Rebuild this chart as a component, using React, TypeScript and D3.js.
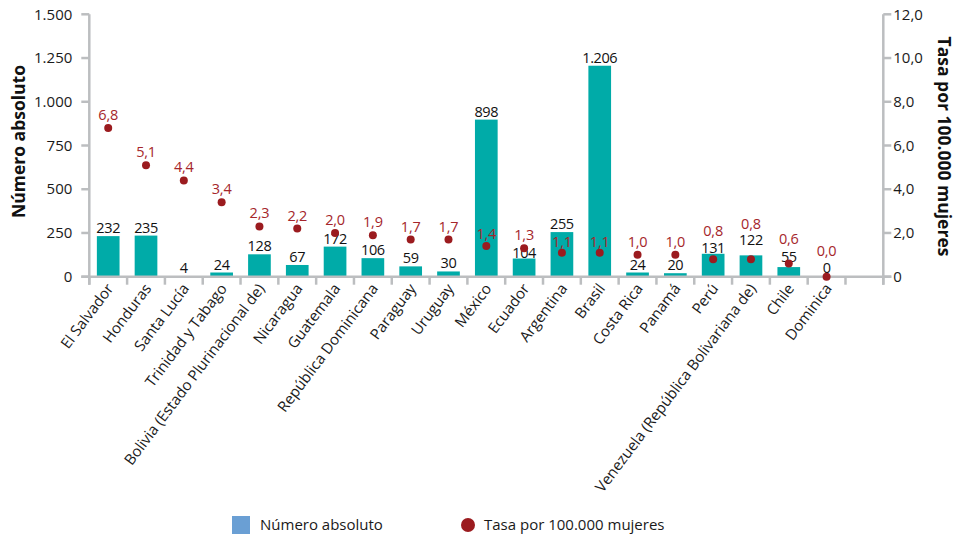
import React from 'react';
import * as d3 from 'd3';

// categorías (la última queda vacía, como en el original)
const paises = [
  'El Salvador', 'Honduras', 'Santa Lucía', 'Trinidad y Tabago',
  'Bolivia (Estado Plurinacional de)', 'Nicaragua', 'Guatemala',
  'República Dominicana', 'Paraguay', 'Uruguay', 'México', 'Ecuador',
  'Argentina', 'Brasil', 'Costa Rica', 'Panamá', 'Perú',
  'Venezuela (República Bolivariana de)', 'Chile', 'Dominica', '',
];
const numeroAbsoluto = [232, 235, 4, 24, 128, 67, 172, 106, 59, 30, 898, 104, 255, 1206, 24, 20, 131, 122, 55, 0];
const tasa = [6.8, 5.1, 4.4, 3.4, 2.3, 2.2, 2.0, 1.9, 1.7, 1.7, 1.4, 1.3, 1.1, 1.1, 1.0, 1.0, 0.8, 0.8, 0.6, 0.0];
const ticksIzq = [0, 250, 500, 750, 1000, 1250, 1500];
const ticksDer = [0, 2, 4, 6, 8, 10, 12];

const W = 957;
const H = 538;
const plot = { left: 89.3, right: 883.3, top: 14.3, bottom: 276.7 };

// separación (px) de las etiquetas que en el original se movieron a mano
const sepBarra: Record<string, number> = { 'Perú': 1, 'Venezuela (República Bolivariana de)': 10, 'Chile': 5, 'Ecuador': 1, 'Dominica': 4 };
const sepTasa: Record<string, number> = { 'Perú': 23, 'Venezuela (República Bolivariana de)': 30, 'Chile': 20, 'Dominica': 21, 'Argentina': 6, 'Brasil': 6, 'México': 7 };

const esLocale = d3.formatLocale({ decimal: ',', thousands: '.', grouping: [3], currency: ['$', ''] });
const fmtMiles = esLocale.format(',d');
const fmtTasa = esLocale.format('.1f');

const FONT = '"Open Sans", sans-serif';
const GRIS = '#bcbec0';
const TEAL = '#00aba8';
const ROJO = '#9b1b1f';
const ROJO_TXT = '#a5262b';

export default function App() {
  const x = d3.scaleBand<string>().domain(paises).range([plot.left, plot.right]).paddingInner(0.4).paddingOuter(0.2);
  const yL = d3.scaleLinear().domain([0, 1500]).range([plot.bottom, plot.top]);
  const yR = d3.scaleLinear().domain([0, 12]).range([plot.bottom, plot.top]);

  const step = x.step();
  const bordes = paises.map((p) => (x(p) ?? 0) - step * 0.2);
  bordes.push(plot.right);

  const datos = numeroAbsoluto.map((v, i) => ({ pais: paises[i], v, t: tasa[i] }));
  const cx = (p: string) => (x(p) ?? 0) + x.bandwidth() / 2;

  return (
    <svg width={W} height={H} style={{ position: 'absolute', left: 0, top: 0, fontFamily: FONT }}>
      <rect width={W} height={H} fill="#fff" />

      {/* barras */}
      {datos.map((d) => (
        <rect key={'b' + d.pais} x={x(d.pais)} y={yL(d.v)} width={x.bandwidth()} height={plot.bottom - yL(d.v)} fill={TEAL} />
      ))}

      {/* ejes */}
      <g stroke={GRIS} strokeWidth={2.5} fill="none">
        <line x1={plot.left} x2={plot.left} y1={plot.top} y2={plot.bottom + 8} />
        <line x1={plot.right} x2={plot.right} y1={plot.top} y2={plot.bottom + 8} />
        <line x1={plot.left - 8} x2={plot.right + 8} y1={plot.bottom} y2={plot.bottom} />
        {ticksIzq.map((t) => (
          <line key={'tl' + t} x1={plot.left - 8} x2={plot.left} y1={yL(t)} y2={yL(t)} />
        ))}
        {ticksDer.map((t) => (
          <line key={'tr' + t} x1={plot.right} x2={plot.right + 8} y1={yR(t)} y2={yR(t)} />
        ))}
        {bordes.map((b, i) => (
          <line key={'tx' + i} x1={b} x2={b} y1={plot.bottom} y2={plot.bottom + 8} />
        ))}
      </g>

      {/* etiquetas de ejes */}
      <g fontSize={15} fill="#1a1a1a">
        {ticksIzq.map((t) => (
          <text key={'ll' + t} x={plot.left - 17} y={yL(t)} dy="0.35em" textAnchor="end">{fmtMiles(t)}</text>
        ))}
        {ticksDer.map((t) => (
          <text key={'lr' + t} x={plot.right + 10} y={yR(t)} dy="0.35em" textAnchor="start">{t === 0 ? '0' : fmtTasa(t)}</text>
        ))}
        {paises.map((p) => (
          <text key={'lx' + p} transform={`translate(${cx(p) + 6},${plot.bottom + 12}) rotate(-53)`} textAnchor="end">{p}</text>
        ))}
      </g>

      {/* títulos */}
      <text transform="translate(25,141.5) rotate(-90)" textAnchor="middle" fontWeight="bold" fontSize={17.5} fill="#111">Número absoluto</text>
      <text transform="translate(938,146.5) rotate(90)" textAnchor="middle" fontWeight="bold" fontSize={17.5} fill="#111">Tasa por 100.000 mujeres</text>

      {/* valores de barras */}
      <g fontSize={14.5} letterSpacing={-0.4} fill="#111" textAnchor="middle">
        {datos.map((d) => (
          <text key={'vb' + d.pais} x={cx(d.pais)} y={yL(d.v) - (sepBarra[d.pais] ?? 3)}>{fmtMiles(d.v)}</text>
        ))}
      </g>

      {/* tasa */}
      {datos.map((d) => (
        <circle key={'c' + d.pais} cx={cx(d.pais)} cy={yR(d.t)} r={4} fill={ROJO} />
      ))}
      <g fontSize={14.5} letterSpacing={-0.2} fill={ROJO_TXT} textAnchor="middle">
        {datos.map((d) => (
          <text key={'vt' + d.pais} x={cx(d.pais)} y={yR(d.t) - (sepTasa[d.pais] ?? 8)}>{fmtTasa(d.t)}</text>
        ))}
      </g>

      {/* leyenda */}
      <g fontSize={15} fill="#1a1a1a">
        <rect x={232} y={516} width={18} height={18} fill="#6a9fd4" />
        <text x={260} y={530}>Número absoluto</text>
        <circle cx={468} cy={525} r={7} fill={ROJO} />
        <text x={484} y={530}>Tasa por 100.000 mujeres</text>
      </g>
    </svg>
  );
}
